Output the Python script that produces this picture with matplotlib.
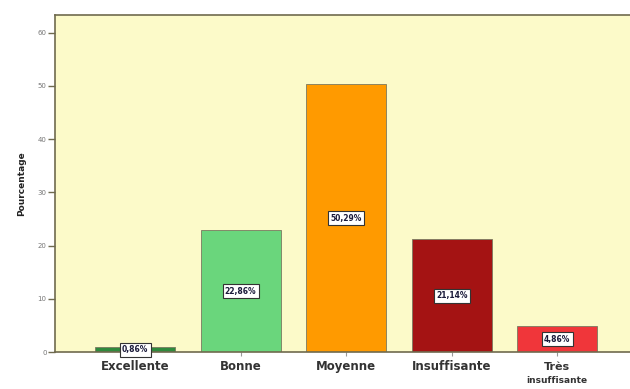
import matplotlib.pyplot as plt

categories = ["Excellente", "Bonne", "Moyenne", "Insuffisante", "Très\ninsuffisante"]
percentages = [0.86, 22.86, 50.29, 21.14, 4.86]
value_labels = ["0,86%", "22,86%", "50,29%", "21,14%", "4,86%"]
bar_colors = ["#2f8a3c", "#6ad67c", "#ff9a00", "#a41313", "#f0363a"]
y_ticks = [0, 10, 20, 30, 40, 50, 60]

spine_color = "#6f6a4e"

fig = plt.figure(figsize=(6.3, 3.89), dpi=100)
ax = fig.add_axes([0.0873, 0.0951, 0.9127, 0.8663])
ax.set_facecolor("#fcfac9")

x = list(range(len(categories)))
ax.bar(x, percentages, width=0.76, color=bar_colors, edgecolor="#7a7a60", linewidth=0.6)

for xi, val, lab in zip(x, percentages, value_labels):
    ax.text(xi, val / 2, lab, ha="center", va="center", fontsize=5.5, fontweight="bold",
            color="#1a1a3a",
            bbox=dict(boxstyle="square,pad=0.3", fc="white", ec="#333333", lw=0.8))

ax.set_xlim(-0.76, 4.69)
ax.set_ylim(0, 63.3)
ax.set_yticks(y_ticks)
ax.set_yticklabels([str(t) for t in y_ticks], fontsize=5, color="#777777")
ax.set_xticks(x)
ax.set_xticklabels(["Excellente", "Bonne", "Moyenne", "Insuffisante", ""],
                   fontsize=8.5, fontweight="bold", color="#333333")
ax.text(4, -1.9, "Très", ha="center", va="top", fontsize=8, fontweight="bold", color="#333333")
ax.text(4, -4.6, "insuffisante", ha="center", va="top", fontsize=6.5, fontweight="bold",
        color="#333333")

ax.tick_params(axis="y", length=5, width=1, color=spine_color, pad=1)
ax.tick_params(axis="x", length=3, width=0.8, color="#999999", pad=3)

for side in ["left", "top", "bottom"]:
    ax.spines[side].set_color(spine_color)
    ax.spines[side].set_linewidth(1.2)
ax.spines["right"].set_visible(False)

ax.set_ylabel("Pourcentage", fontsize=6.5, fontweight="bold", color="#222222", labelpad=8)

fig.savefig("out.png", dpi=100)
